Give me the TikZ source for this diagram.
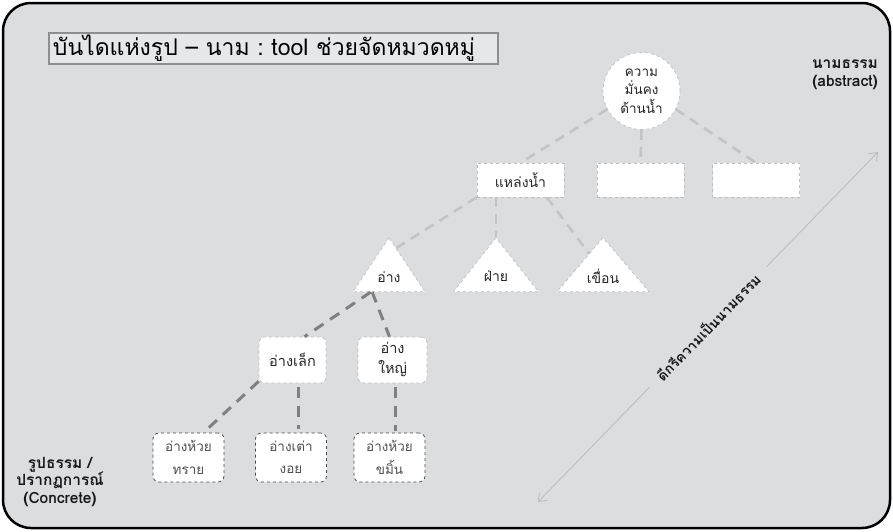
\documentclass[tikz,border=0pt]{standalone}
\usepackage{fontspec}
\setmainfont[Script=Thai]{Loma}
\frenchspacing
\usetikzlibrary{shapes.geometric,calc,arrows.meta}
\definecolor{panel}{HTML}{DCDDDF}
\definecolor{linklight}{HTML}{C4C4C4}
\definecolor{linkdark}{HTML}{808080}
\definecolor{leafedge}{HTML}{4A4A4A}
\definecolor{leaftext}{HTML}{505050}
\definecolor{edgelight}{HTML}{BDBDBD}
\definecolor{titleedge}{HTML}{8E8E8E}
\definecolor{axisline}{HTML}{BEBEBE}
\begin{document}
\begin{tikzpicture}[x=1pt,y=-1pt,
  nodetext/.style={font=\fontsize{14}{18}\selectfont, text=black!85, align=center},
  whitebox/.style={nodetext, fill=white, draw=edgelight, dashed, line width=0.6pt},
  topcircle/.style={whitebox, circle, minimum size=77pt, inner sep=0pt,
    font=\fontsize{13.5}{18.5}\selectfont},
  levelbox/.style={whitebox, rectangle, minimum width=87pt, minimum height=34pt, inner sep=0pt},
  tribox/.style={whitebox, isosceles triangle, isosceles triangle stretches,
    shape border rotate=90, minimum height=54pt, inner sep=0pt},
  midbox/.style={whitebox, rounded corners=6pt, minimum height=46pt, inner sep=0pt,
    font=\fontsize{14.5}{20}\selectfont},
  leafbox/.style={nodetext, fill=white, draw=leafedge, dashed, line width=0.8pt,
    rounded corners=6pt, minimum height=49pt, minimum width=71pt, inner sep=0pt,
    text=leaftext, font=\fontsize{13.5}{22.5}\selectfont},
  lightlink/.style={draw=linklight, line width=2.6pt, dash pattern=on 10pt off 7pt},
  darklink/.style={draw=linkdark, line width=3pt, dash pattern=on 11pt off 8pt},
  sidelabel/.style={font=\bfseries\fontsize{15.5}{17.5}\selectfont, text=black!90, align=center}]
\useasboundingbox (0,0) rectangle (893,531);

% panel
\draw[line width=2.5pt, rounded corners=28pt, fill=panel] (3,3) rectangle (890,528);

% heading
\node[draw=titleedge, line width=1.8pt, fill=panel!70!white, anchor=north west,
  minimum height=31pt, text width=441pt, inner xsep=4pt, inner ysep=0pt, align=left,
  font=\fontsize{23}{26}\selectfont] (title) at (48,32)
  {บันไดแห่งรูป – นาม : tool ช่วยจัดหมวดหมู่};

% hierarchy
\node[topcircle] (top) at (641.5,91) {ความ\\มั่นคง\\ด้านน้ำ};

\node[levelbox] (src) at (520.5,180) {แหล่งน้ำ};
\node[levelbox] (blankA) at (640.5,180) {};
\node[levelbox] (blankB) at (756,180) {};

\node[tribox, minimum width=72pt, anchor=apex] (pond) at (389,237) {อ่าง};
\node[tribox, minimum width=85pt, anchor=apex] (weir) at (496,237) {ฝ่าย};
\node[tribox, minimum width=92pt, anchor=apex] (dam) at (603,237) {เขื่อน};

\node[midbox, minimum width=67pt] (small) at (292.5,360) {อ่างเล็ก};
\node[midbox, minimum width=69pt] (large) at (392.5,360) {อ่าง\\ใหญ่};

\node[leafbox] (sai) at (188.5,457.5) {อ่างห้วย\\ทราย};
\node[leafbox] (tao) at (291,457.5) {อ่างเต่า\\งอย};
\node[leafbox] (kha) at (389.5,457.5) {อ่างห้วย\\ขมิ้น};

% connectors
\draw[lightlink] (top.208) -- (src.north);
\draw[lightlink] (top.south) -- (blankA.north);
\draw[lightlink] (top.-28) -- (blankB.north);

\draw[lightlink] (src.south west) -- ($(pond.apex)!0.2!(pond.right corner)$);
\draw[lightlink] (weir.apex |- src.south) -- (weir.apex);
\draw[lightlink] ($(src.south)!0.6!(src.south east)$) -- ($(dam.apex)!0.3!(dam.left corner)$);

\draw[darklink] ($(pond.left corner)!0.25!(pond.right corner)$) -- ($(small.north)+(12,0)$);
\draw[darklink] ($(pond.left corner)!0.27!(pond.right corner)$) -- ($(large.north)+(-3,0)$);

\draw[darklink] ($(small.south west)+(0,-2)$) -- ($(sai.north)+(15,0)$);
\draw[darklink] ($(small.south)+(5.5,4)$) -- ($(tao.north)+(7,-4)$);
\draw[darklink] ($(large.south)+(2.5,4)$) -- ($(kha.north)+(5.5,-2)$);

% abstraction axis
\coordinate (axislow) at (538,502);
\coordinate (axishigh) at (878,152);
\draw[draw=axisline, line width=0.9pt, {Straight Barb[length=7pt,width=11pt]}-{Straight Barb[length=7pt,width=11pt]}]
  (axislow) -- (axishigh)
  node[pos=0.5, sloped, fill=panel, inner xsep=13pt, inner ysep=2pt,
    font=\bfseries\fontsize{14}{16}\selectfont, text=black!90] (axislabel) {ดีกรีความเป็นนามธรรม};

% side captions
\node[sidelabel] (abstract) at (845,75) {นามธรรม\\(abstract)};
\node[sidelabel] (concrete) at (60,482) {รูปธรรม /\\ปรากฏการณ์\\(Concrete)};
\end{tikzpicture}
\end{document}
